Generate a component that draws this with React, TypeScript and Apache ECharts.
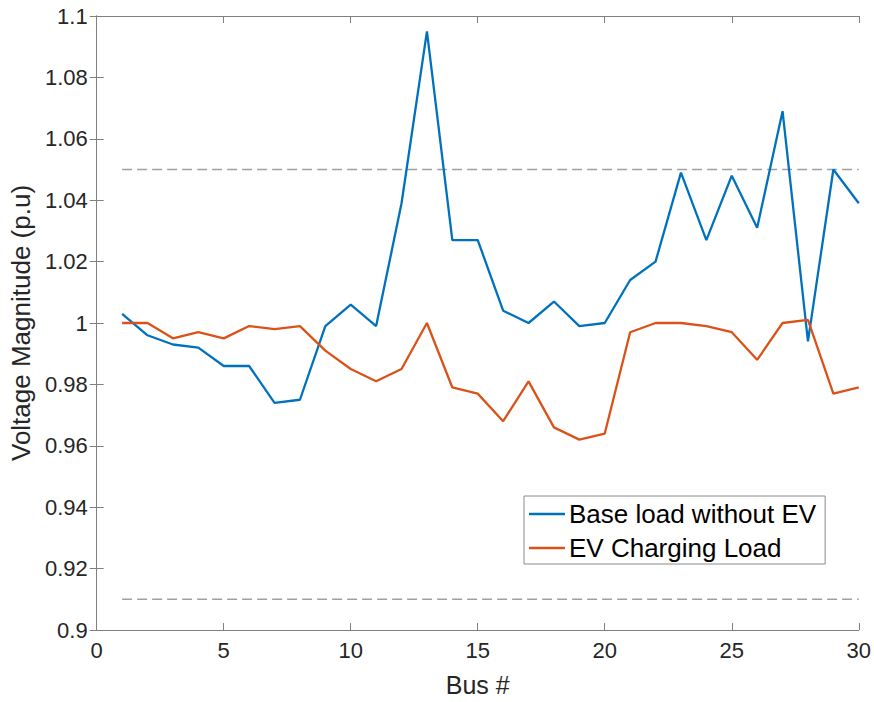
import React, { useEffect, useRef } from "react";
import * as echarts from "echarts";

const buses = [1,2,3,4,5,6,7,8,9,10,11,12,13,14,15,16,17,18,19,20,21,22,23,24,25,26,27,28,29,30];
const baseLoad = [1.003,0.996,0.993,0.992,0.986,0.986,0.974,0.975,0.999,1.006,0.999,1.039,1.095,1.027,1.027,1.004,1.000,1.007,0.999,1.000,1.014,1.020,1.049,1.027,1.048,1.031,1.069,0.994,1.050,1.039];
const evLoad = [1.000,1.000,0.995,0.997,0.995,0.999,0.998,0.999,0.991,0.985,0.981,0.985,1.000,0.979,0.977,0.968,0.981,0.966,0.962,0.964,0.997,1.000,1.000,0.999,0.997,0.988,1.000,1.001,0.977,0.979];
const upperLimit = 1.05;
const lowerLimit = 0.91;
const xTicks = { min: 0, max: 30, interval: 5 };
const yTicks = { min: 0.9, max: 1.1, interval: 0.02 };

const FONT = "Liberation Sans";
const AX = "#262626";

export default function App() {
  const ref = useRef<HTMLDivElement>(null);
  useEffect(() => {
    if (!ref.current) return;
    const chart = echarts.init(ref.current, undefined, { renderer: "svg" });
    const fmt = (v: number) => String(parseFloat(v.toFixed(2)));
    const axisCommon = {
      axisLine: { show: true, lineStyle: { color: "#808080", width: 1 } },
      axisTick: { show: true, inside: true, length: 7, lineStyle: { color: "#808080" } },
      splitLine: { show: false },
    };
    const lo = buses[0], hi = buses[buses.length - 1];
    chart.setOption({
      animation: false,
      backgroundColor: "#ffffff",
      grid: { left: 96, right: 15, top: 16, bottom: 64, containLabel: false },
      legend: {
        orient: "vertical",
        left: 524,
        top: 496,
        icon: "rect",
        itemWidth: 36,
        itemHeight: 2.5,
        itemGap: 8,
        padding: [5, 9, 3, 5],
        borderColor: "#8a8a8a",
        borderWidth: 1,
        backgroundColor: "#ffffff",
        textStyle: { fontFamily: FONT, fontSize: 26, color: "#000", padding: [0, 0, 0, -1] },
        data: ["Base load without EV", "EV Charging Load"],
      },
      xAxis: [
        {
          type: "value", ...xTicks, position: "bottom",
          ...axisCommon,
          axisLabel: { fontFamily: FONT, fontSize: 22, color: AX, margin: 9, formatter: fmt },
          name: "Bus #", nameLocation: "middle", nameGap: 42,
          nameTextStyle: { fontFamily: FONT, fontSize: 25, color: AX },
        },
        {
          type: "value", ...xTicks, position: "top",
          ...axisCommon, axisLabel: { show: false },
        },
      ],
      yAxis: [
        {
          type: "value", ...yTicks, position: "left",
          ...axisCommon,
          axisLabel: { fontFamily: FONT, fontSize: 22, color: AX, margin: 9, formatter: fmt },
          name: "Voltage Magnitude (p.u)", nameLocation: "middle", nameGap: 59,
          nameTextStyle: { fontFamily: FONT, fontSize: 26, color: AX },
        },
        {
          type: "value", ...yTicks, position: "right",
          ...axisCommon, axisLabel: { show: false },
        },
      ],
      series: [
        {
          name: "upper", type: "line", symbol: "none", silent: true,
          data: [[lo, upperLimit], [hi, upperLimit]],
          lineStyle: { color: "#a0a0a0", width: 1.5, type: [10, 5] },
        },
        {
          name: "lower", type: "line", symbol: "none", silent: true,
          data: [[lo, lowerLimit], [hi, lowerLimit]],
          lineStyle: { color: "#a0a0a0", width: 1.5, type: [10, 5] },
        },
        {
          name: "Base load without EV", type: "line", symbol: "none",
          data: buses.map((b, i) => [b, baseLoad[i]]),
          lineStyle: { color: "#0072BD", width: 2.3 }, itemStyle: { color: "#0072BD" },
        },
        {
          name: "EV Charging Load", type: "line", symbol: "none",
          data: buses.map((b, i) => [b, evLoad[i]]),
          lineStyle: { color: "#D95319", width: 2.3 }, itemStyle: { color: "#D95319" },
        },
      ],
    });
    return () => chart.dispose();
  }, []);
  return (
    <div
      ref={ref}
      style={{ position: "fixed", left: 0, top: 0, width: 874, height: 702, background: "#fff" }}
    />
  );
}
